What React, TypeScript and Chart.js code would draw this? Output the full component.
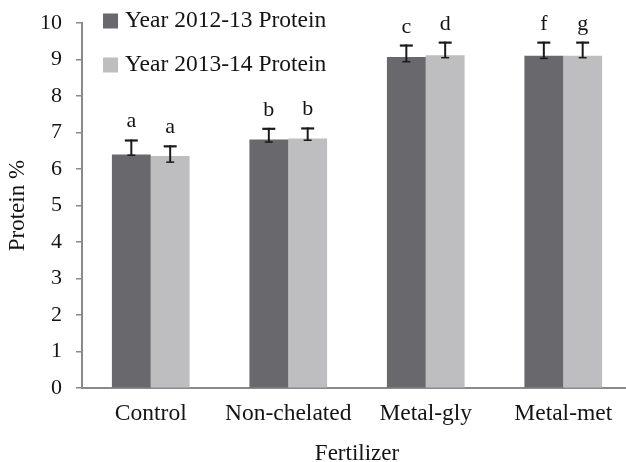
import React, { useEffect, useRef } from 'react';
import { Chart, registerables } from 'chart.js';

Chart.register(...registerables);

// ---- data ----
const categories = ['Control', 'Non-chelated', 'Metal-gly', 'Metal-met'];
const seriesNames = ['Year 2012-13 Protein', 'Year 2013-14 Protein'];
const protein2012 = [6.4, 6.81, 9.07, 9.1];
const protein2013 = [6.36, 6.84, 9.12, 9.1];
const errPlus2012 = [0.41, 0.32, 0.34, 0.39];
const errMinus2012 = [0.02, 0.07, 0.13, 0.07];
const errPlus2013 = [0.29, 0.3, 0.37, 0.39];
const errMinus2013 = [0.17, 0.05, 0.07, 0.05];
const letters2012 = ['a', 'b', 'c', 'f'];
const letters2013 = ['a', 'b', 'd', 'g'];
const yMin = 0;
const yMax = 10;
const yStep = 1;
const xTitle = 'Fertilizer';
const yTitle = 'Protein %';

const colors = ['#69696d', '#bebec1'];
const FONT = "'Liberation Serif', 'Times New Roman', serif";
const TEXT = '#141414';
const AXIS = '#8a8a8a';

const errPlus = [errPlus2012, errPlus2013];
const errMinus = [errMinus2012, errMinus2013];
const letters = [letters2012, letters2013];

const overlayPlugin = {
  id: 'overlay',
  afterDatasetsDraw(chart: any) {
    const ctx = chart.ctx;
    const y = chart.scales.y;
    ctx.save();
    chart.data.datasets.forEach((ds: any, i: number) => {
      const meta = chart.getDatasetMeta(i);
      meta.data.forEach((bar: any, j: number) => {
        const v = ds.data[j];
        const top = y.getPixelForValue(v + errPlus[i][j]);
        const bot = y.getPixelForValue(v - errMinus[i][j]);
        const x = bar.x;
        ctx.strokeStyle = '#1a1a1a';
        // stem
        ctx.lineWidth = 2;
        ctx.beginPath();
        ctx.moveTo(x, top);
        ctx.lineTo(x, bot);
        ctx.stroke();
        // top cap
        ctx.lineWidth = 2.2;
        ctx.beginPath();
        ctx.moveTo(x - 6.5, top + 1);
        ctx.lineTo(x + 6.5, top + 1);
        ctx.stroke();
        // bottom cap
        ctx.lineWidth = 1.5;
        ctx.beginPath();
        ctx.moveTo(x - 4, bot);
        ctx.lineTo(x + 4, bot);
        ctx.stroke();
        // letter
        ctx.fillStyle = TEXT;
        ctx.font = `22px ${FONT}`;
        ctx.textAlign = 'center';
        ctx.textBaseline = 'alphabetic';
        ctx.fillText(letters[i][j], x, top - 12);
      });
    });
    ctx.restore();
  },
  afterDraw(chart: any) {
    const ctx = chart.ctx;
    ctx.save();
    const rows = [21, 65];
    chart.data.datasets.forEach((ds: any, i: number) => {
      const cy = rows[i];
      ctx.fillStyle = ds.backgroundColor;
      ctx.fillRect(103, cy - 7.5, 15, 15);
      ctx.fillStyle = TEXT;
      ctx.font = `23.5px ${FONT}`;
      ctx.textAlign = 'left';
      ctx.textBaseline = 'middle';
      ctx.fillText(ds.label, 125, cy);
    });
    ctx.restore();
  },
};

export default function App() {
  const ref = useRef<HTMLCanvasElement | null>(null);
  useEffect(() => {
    if (!ref.current) return;
    const chart = new Chart(ref.current, {
      type: 'bar',
      data: {
        labels: categories,
        datasets: [
          { label: seriesNames[0], data: protein2012, backgroundColor: colors[0], borderWidth: 0 },
          { label: seriesNames[1], data: protein2013, backgroundColor: colors[1], borderWidth: 0 },
        ],
      },
      options: {
        responsive: false,
        animation: false,
        devicePixelRatio: 1,
        layout: { padding: { left: 4, top: 23, right: 0, bottom: 0 } },
        datasets: { bar: { categoryPercentage: 0.565, barPercentage: 1 } },
        plugins: { legend: { display: false }, tooltip: { enabled: false } },
        scales: {
          x: {
            grid: { display: false },
            border: { display: true, color: AXIS, width: 2 },
            ticks: { color: TEXT, font: { family: FONT, size: 23.5 }, padding: 4 },
            title: {
              display: true,
              text: xTitle,
              color: TEXT,
              font: { family: FONT, size: 23 },
              padding: { top: 8, bottom: -6 },
            },
          },
          y: {
            min: yMin,
            max: yMax,
            grid: { drawOnChartArea: false, tickLength: 6, color: AXIS, lineWidth: 1.5 },
            border: { display: true, color: AXIS, width: 2 },
            ticks: { stepSize: yStep, color: TEXT, font: { family: FONT, size: 22, lineHeight: 0.6 }, padding: 14 },
            title: {
              display: true,
              text: yTitle,
              color: TEXT,
              font: { family: FONT, size: 23 },
              padding: { top: 0, bottom: -5.6 },
            },
          },
        },
      },
      plugins: [overlayPlugin],
    });
    return () => chart.destroy();
  }, []);
  return (
    <div style={{ position: 'fixed', left: 0, top: 0, width: 626, height: 462, overflow: 'hidden', background: '#fff' }}>
      <canvas ref={ref} width={632} height={462} style={{ display: 'block' }} />
    </div>
  );
}
